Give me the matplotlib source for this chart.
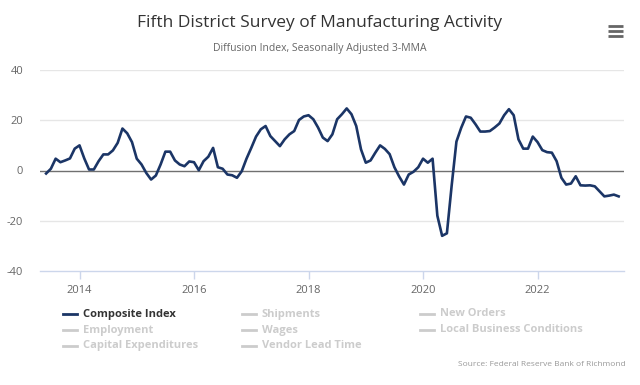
import matplotlib
matplotlib.use("Agg")
import matplotlib.pyplot as plt
from matplotlib.lines import Line2D

plt.rcParams['font.family'] = ['Open Sans', 'DejaVu Sans']

# Composite index (3-MMA), monthly from June 2013 to June 2023
start_year = 2013
start_month = 6
composite = [
    -1.2, 0.7, 4.7, 3.3, 4.0, 4.8, 8.7, 10.0, 4.8, 0.4,
    0.4, 3.7, 6.4, 6.4, 8.0, 11.0, 16.7, 14.8, 11.3, 4.7,
    2.4, -1.0, -3.6, -2.0, 2.4, 7.5, 7.5, 4.0, 2.4, 1.7,
    3.6, 3.3, 0.1, 3.7, 5.5, 9.0, 1.3, 0.7, -1.6, -1.9,
    -2.9, -0.3, 4.7, 9.0, 13.5, 16.4, 17.7, 13.7, 11.7, 9.7,
    12.4, 14.4, 15.7, 20.1, 21.5, 22.0, 20.4, 17.1, 13.1, 11.7,
    14.4, 20.4, 22.4, 24.7, 22.4, 17.7, 8.4, 3.1, 4.0, 7.1,
    10.0, 8.6, 6.5, 1.3, -2.4, -5.6, -1.6, -0.5, 1.3, 4.7,
    3.1, 4.7, -18.0, -26.0, -25.0, -6.0, 11.5, 17.0, 21.5, 21.0,
    18.4, 15.5, 15.5, 15.7, 17.1, 18.7, 22.0, 24.4, 22.0, 12.4,
    8.7, 8.7, 13.5, 11.3, 8.1, 7.3, 7.1, 3.7, -2.9, -5.6,
    -5.2, -2.3, -5.9, -6.0, -5.9, -6.3, -8.3, -10.3, -10.0, -9.6,
    -10.3,
]
x_ticks = [2014, 2016, 2018, 2020, 2022]
y_ticks = [-40, -20, 0, 20, 40]

legend_items = [
    ["Composite Index", "Shipments", "New Orders"],
    ["Employment", "Wages", "Local Business Conditions"],
    ["Capital Expenditures", "Vendor Lead Time", None],
]

title = "Fifth District Survey of Manufacturing Activity"
subtitle = "Diffusion Index, Seasonally Adjusted 3-MMA"
source = "Source: Federal Reserve Bank of Richmond"

W, H = 640, 385
fig = plt.figure(figsize=(W / 100, H / 100), dpi=100)
fig.patch.set_facecolor("white")

def fx(px):
    return px / W

def fy(py):
    return 1 - py / H

ax = fig.add_axes([fx(40), fy(271), fx(624) - fx(40), fy(70) - fy(271)])

xs = [start_year + (start_month - 1 + i) / 12 for i in range(len(composite))]

ax.set_ylim(-40, 40)
ax.set_xlim(2013.31, 2023.51)
ax.set_yticks(y_ticks)
ax.set_yticklabels([str(v) for v in y_ticks])
ax.set_xticks(x_ticks)
ax.set_xticklabels([str(v) for v in x_ticks])

for v in y_ticks:
    if v == 0:
        ax.axhline(v, color="#707070", lw=1.0, zorder=2)
    elif v != -40:
        ax.axhline(v, color="#e6e6e6", lw=1.0, zorder=1)

ax.plot(xs, composite, color="#1b3566", lw=1.9, zorder=3, solid_joinstyle="round")

for s in ["top", "right", "left"]:
    ax.spines[s].set_visible(False)
ax.spines["bottom"].set_color("#ccd6eb")
ax.spines["bottom"].set_linewidth(1.0)
ax.tick_params(axis="y", length=0, pad=12, labelsize=8, labelcolor="#666666")
ax.tick_params(axis="x", length=6, width=1, color="#ccd6eb", pad=4,
               labelsize=8, labelcolor="#666666")
for lbl in ax.get_yticklabels():
    lbl.set_horizontalalignment("right")
ax.patch.set_visible(False)

fig.text(0.5, fy(23), title, ha="center", va="center", fontsize=12.5, color="#333333")
fig.text(0.5, fy(48), subtitle, ha="center", va="center", fontsize=7.5, color="#666666")

# menu icon
for py in [26, 31, 36]:
    fig.add_artist(Line2D([fx(608), fx(623)], [fy(py), fy(py)], color="#666666", lw=2.0,
                          solid_capstyle="butt"))

col_x = [63, 242, 420]
row_y = [314, 330, 345.5]
for r, row in enumerate(legend_items):
    for c, name in enumerate(row):
        if name is None:
            continue
        active = (r == 0 and c == 0)
        lc = "#1b3566" if active else "#cccccc"
        tc = "#333333" if active else "#cccccc"
        x0 = col_x[c]
        y0 = row_y[r]
        fig.add_artist(Line2D([fx(x0), fx(x0 + 14)], [fy(y0), fy(y0)], color=lc, lw=2.0))
        fig.text(fx(x0 + 20), fy(y0), name, ha="left", va="center", fontsize=8,
                 fontweight="bold", color=tc)

fig.text(fx(626), fy(364), source, ha="right", va="center", fontsize=6.0, color="#999999")

fig.savefig("out.png", dpi=100)
